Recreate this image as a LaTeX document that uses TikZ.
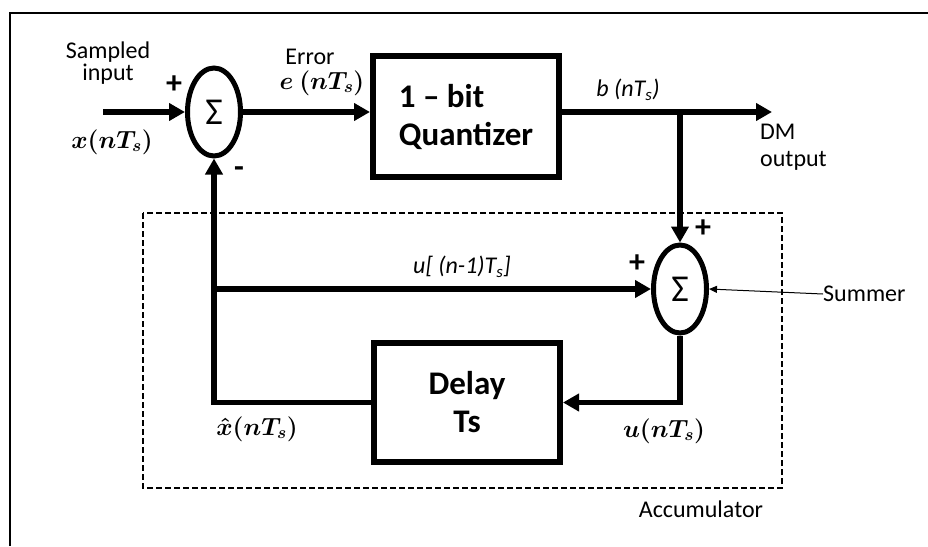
\documentclass[tikz,border=0pt]{standalone}
\usepackage{amsmath}
\usepackage{fontspec}
\setmainfont{Carlito}
\usepackage{tikz}
\usetikzlibrary{shapes,arrows.meta,positioning,calc}

\begin{document}
\begin{tikzpicture}[
  x=1pt, y=-1pt,
  block/.style={draw, line width=6pt, minimum width=186pt, align=left, font=\fontsize{33}{38}\selectfont\bfseries},
  sumnode/.style={draw, ellipse, line width=5pt, minimum width=53pt, minimum height=88pt, inner sep=0pt, font=\fontsize{38}{38}\selectfont},
  sig/.style={-{Triangle[length=16pt,width=17pt]}, line width=5.5pt},
  note/.style={-{Triangle[length=8pt,width=7pt]}, line width=1pt},
  lbl/.style={font=\fontsize{24}{19}\selectfont, align=center, inner sep=0pt},
  ilbl/.style={font=\fontsize{24}{19}\selectfont\itshape, inner sep=0pt},
  mlbl/.style={font=\fontsize{26}{26}\selectfont\boldmath, inner sep=0pt},
  sgn/.style={font=\fontsize{32}{32}\selectfont\bfseries, inner sep=0pt},
  accbox/.style={draw, line width=2pt, dash pattern=on 6pt off 3pt}
]
  \useasboundingbox (0,0) rectangle (928,546);

  % Frame
  \draw[line width=2.5pt] (10,546) -- (10,13) -- (928,13);

  % Blocks
  \node[sumnode] (sum1) at (214,112) {Σ};
  \node[block, minimum height=121pt] (quant) at (466,116.5) {1 – bit\\Quantizer};
  \node[sumnode] (sum2) at (680,289) {Σ};
  \node[block, minimum height=119pt, align=center] (delay) at (467,402.5) {Delay\\Ts};

  % Accumulator
  \draw[accbox] (143,213) rectangle (782,488);
  \node[lbl] (acc) at (701,509) {Accumulator};

  % Points
  \coordinate (xstart) at (103,112);
  \coordinate (dmout) at (772,112);
  \coordinate (tap) at (sum2 |- sum1);

  % Arrows
  \draw[sig] (xstart) -- (sum1.west);
  \draw[sig] (sum1.east) -- (sum1 -| quant.west);
  \draw[sig] (sum1 -| quant.east) -- (dmout);
  \draw[sig] (tap) -- (sum2.north);
  \draw[sig] (sum1 |- sum2) -- (sum2.west);
  \draw[sig] (sum2.south) |- (delay.east);
  \draw[sig] (delay.west) -| (sum1.south);

  % Labels
  \node[lbl] (sampled) at (108,63) {Sampled\\input};
  \node[sgn] (plusa) at (174,85) {+};
  \node[mlbl] (xin) at (112,142) {$x(nT_s)$};
  \node[lbl] (err) at (310,57) {Error};
  \node[mlbl] (esig) at (322,83) {$e\ (nT_s)$};
  \node[sgn] (minusa) at (239,172) {-};
  \node[ilbl] (bsig) at (628,90) {b (nT\textsubscript{s})};
  \node[lbl, align=left, anchor=west, font=\fontsize{24}{27}\selectfont] (dm) at (760,147) {DM\\output};
  \node[ilbl] (ufb) at (462,267) {u[ (n-1)T\textsubscript{s}]};
  \node[sgn] (plusb) at (637,264) {+};
  \node[sgn] (plusc) at (703,229) {+};
  \node[mlbl] (xhat) at (257,429) {$\hat{x}(nT_s)$};
  \node[mlbl] (usig) at (664,431) {$u(nT_s)$};
  \node[lbl, anchor=west] (summer) at (823,294) {Summer};
  \draw[note] (summer.west) -- (sum2.east);
\end{tikzpicture}
\end{document}
